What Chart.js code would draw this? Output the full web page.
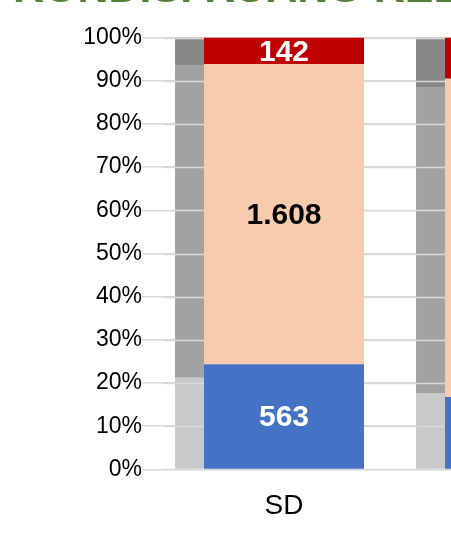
<!DOCTYPE html>
<html>
<head>
<meta charset="utf-8">
<script src="https://cdn.jsdelivr.net/npm/chart.js@4/dist/chart.umd.min.js"></script>
<style>
  html, body { margin: 0; padding: 0; background: #fff; overflow: hidden; }
  #wrap { position: relative; width: 451px; height: 541px; overflow: hidden; }
  #c { position: absolute; left: 0; top: -36px; }
</style>
</head>
<body>
<div id="wrap"><canvas id="c" width="660" height="598"></canvas></div>
<script>
// school levels (second one is cut off at the right edge)
const categories = ['SD', 'SMP'];

// classroom counts per condition, shown as labels
const baik = [563, 296];          // blue
const rusakRingan = [1608, 1300]; // peach
const rusakBerat = [142, 168];    // red

// grey comparison bar, already in percent
const greyLight = [21.2, 17.7];
const greyMid = [72.3, 70.7];
const greyDark = [6.5, 11.6];

const yTicks = [0, 10, 20, 30, 40, 50, 60, 70, 80, 90, 100];

const GRID = '#d9d9d9';
const FONT = "'Liberation Sans', Arial, sans-serif";

const totals = categories.map((_, i) => baik[i] + rusakRingan[i] + rusakBerat[i]);
const pct = (arr) => arr.map((v, i) => v / totals[i] * 100);
const ghost = (arr) => arr.map((v, i) => ({ x: i, y: v }));

function fmt(n) {
  return String(n).replace(/\B(?=(\d{3})+(?!\d))/g, '.');
}

// grey bars sit under the grid lines, coloured bars above them
const gridOverGhost = {
  id: 'gridOverGhost',
  beforeDatasetsDraw(chart) { chart.$gridDone = false; },
  beforeDatasetDraw(chart, args) {
    if (chart.$gridDone || chart.data.datasets[args.index].stack !== 'main') return;
    chart.$gridDone = true;
    const { ctx, chartArea, scales: { y } } = chart;
    ctx.save();
    ctx.strokeStyle = GRID;
    ctx.lineWidth = 1.5;
    y.ticks.forEach((t) => {
      const py = Math.round(y.getPixelForValue(t.value)) + 0.5;
      ctx.beginPath();
      ctx.moveTo(chartArea.left, py);
      ctx.lineTo(chartArea.right, py);
      ctx.stroke();
    });
    ctx.restore();
  },
};

const valueLabels = {
  id: 'valueLabels',
  afterDatasetsDraw(chart) {
    const { ctx } = chart;
    ctx.save();
    ctx.font = `bold 30px ${FONT}`;
    ctx.textAlign = 'center';
    ctx.textBaseline = 'middle';
    chart.data.datasets.forEach((ds, di) => {
      if (!ds.counts) return;
      const meta = chart.getDatasetMeta(di);
      meta.data.forEach((el, i) => {
        ctx.fillStyle = ds.labelColor;
        ctx.fillText(fmt(ds.counts[i]), el.x, (el.y + el.base) / 2 + 1.5);
      });
    });
    ctx.restore();
  },
};

Chart.defaults.font.family = FONT;

const mainBar = { stack: 'main', xAxisID: 'x', grouped: false, maxBarThickness: 160, order: 1 };
const ghostBar = { stack: 'ghost', xAxisID: 'xg', grouped: false, maxBarThickness: 29, order: 2 };

new Chart(document.getElementById('c'), {
  type: 'bar',
  plugins: [gridOverGhost, valueLabels],
  data: {
    labels: categories,
    datasets: [
      { ...mainBar, label: 'Baik', data: pct(baik), counts: baik, labelColor: '#ffffff', backgroundColor: '#4472c4' },
      { ...mainBar, label: 'Rusak Ringan', data: pct(rusakRingan), counts: rusakRingan, labelColor: '#000000', backgroundColor: '#f8cbad' },
      { ...mainBar, label: 'Rusak Berat', data: pct(rusakBerat), counts: rusakBerat, labelColor: '#ffffff', backgroundColor: '#c00000' },
      { ...ghostBar, data: ghost(greyLight), backgroundColor: '#c9c9c9' },
      { ...ghostBar, data: ghost(greyMid), backgroundColor: '#a2a2a2' },
      { ...ghostBar, data: ghost(greyDark), backgroundColor: '#888888' },
    ],
  },
  options: {
    responsive: false,
    animation: false,
    layout: { padding: { left: 13, right: 14.5, top: 0, bottom: 19 } },
    plugins: {
      legend: { display: false },
      tooltip: { enabled: false },
      title: {
        display: true,
        text: 'KONDISI RUANG KELAS',
        align: 'start',
        color: '#548235',
        font: { size: 43, weight: 'bold' },
        padding: { top: 0, bottom: 22 },
      },
    },
    scales: {
      x: {
        stacked: true,
        grid: { display: false, drawTicks: false },
        border: { display: false },
        ticks: { color: '#000', font: { size: 28 }, padding: 20 },
      },
      xg: {
        type: 'linear',
        display: false,
        stacked: true,
        offset: false,
        min: -0.108,
        max: 1.892,
        grid: { display: false, drawTicks: false },
        ticks: { display: false },
        afterFit(scale) { scale.height = 0; },
      },
      y: {
        stacked: true,
        min: 0,
        max: 100,
        afterBuildTicks(scale) { scale.ticks = yTicks.map((v) => ({ value: v })); },
        afterFit(scale) { scale.width = 150.5; },
        grid: { color: GRID, lineWidth: 1.5, tickLength: 21.5 },
        border: { display: false },
        ticks: { color: '#000', font: { size: 23 }, padding: 0, callback: (v) => v + '%' },
      },
    },
  },
});
</script>
</body>
</html>
